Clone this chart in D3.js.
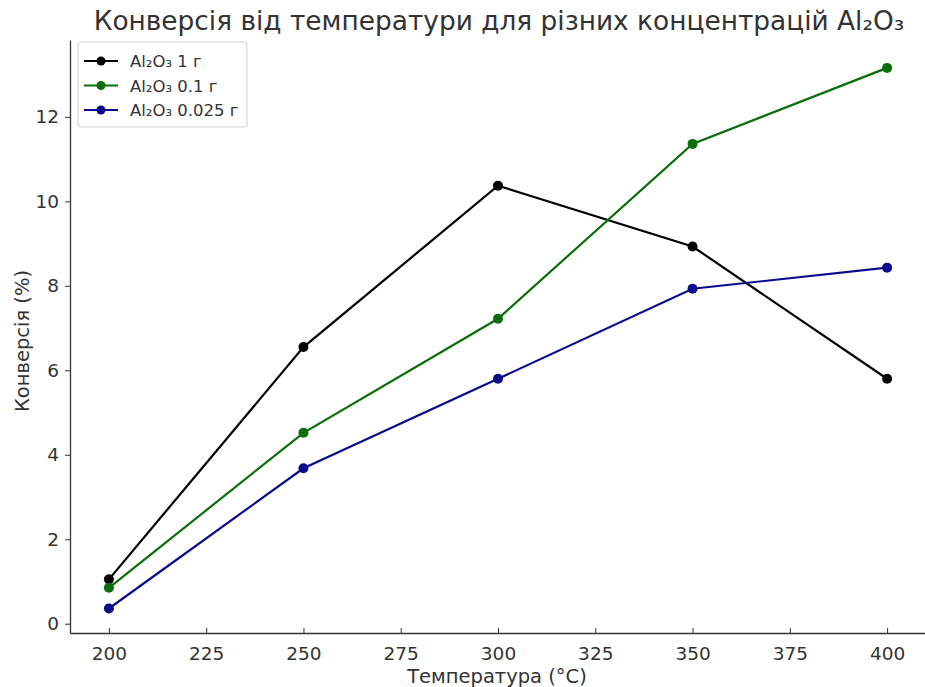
<!DOCTYPE html>
<html><head><meta charset="utf-8">
<script src="https://cdn.jsdelivr.net/npm/d3@7"></script>
<style>body{margin:0;background:#fff}svg{font-family:"DejaVu Sans",sans-serif}</style>
</head><body><svg id="c" width="925" height="687"></svg>
<script>
const temps = [200, 250, 300, 350, 400];
const series1g = [1.05, 6.55, 10.37, 8.93, 5.80];
const series01g = [0.85, 4.52, 7.22, 11.36, 13.16];
const series0025g = [0.36, 3.68, 5.80, 7.93, 8.43];
const seriesNames = ["Al₂O₃ 1 г", "Al₂O₃ 0.1 г", "Al₂O₃ 0.025 г"];
const seriesColors = ["#000000", "#0a6e0a", "#0a0a8c"];
const xTicks = [200, 225, 250, 275, 300, 325, 350, 375, 400];
const yTicks = [0, 2, 4, 6, 8, 10, 12];
const title = "Конверсія від температури для різних концентрацій Al₂O₃";
const xLabel = "Температура (°C)";
const yLabel = "Конверсія (%)";

const data = [series1g, series01g, series0025g].map((v, i) => ({
  name: seriesNames[i], color: seriesColors[i],
  pts: v.map((y, j) => ({x: temps[j], y}))
}));

const svg = d3.select("#c");
const L = 70, R = 926, T = 40, B = 633;
const x = d3.scaleLinear().domain([190, 410]).range([L, R]);
const y = d3.scaleLinear().domain([-0.22, 13.82]).range([B, T]);
const txt = "#333";

// axes
const xa = svg.append("g").attr("transform", `translate(0,${B})`)
  .call(d3.axisBottom(x).tickValues(xTicks).tickSize(-5).tickPadding(14).tickSizeOuter(0));
const ya = svg.append("g").attr("transform", `translate(${L},0)`)
  .call(d3.axisLeft(y).tickValues(yTicks).tickSize(5).tickPadding(6).tickSizeOuter(0));
[xa, ya].forEach(a => {
  a.select(".domain").attr("stroke", "#333").attr("stroke-width", 1.3);
  a.selectAll(".tick line").attr("stroke", "#333").attr("stroke-width", 1);
  a.selectAll(".tick text").attr("fill", txt).style("font-size", "18.5px").style("font-family", "DejaVu Sans");
});

// lines
const line = d3.line().x(d => x(d.x)).y(d => y(d.y));
data.forEach(s => {
  svg.append("path").attr("d", line(s.pts)).attr("fill", "none")
    .attr("stroke", s.color).attr("stroke-width", 2.2);
  svg.selectAll(null).data(s.pts).enter().append("circle")
    .attr("cx", d => x(d.x)).attr("cy", d => y(d.y)).attr("r", 5).attr("fill", s.color);
});

// title & labels
svg.append("text").attr("x", 499).attr("y", 30).attr("text-anchor", "middle")
  .attr("fill", txt).style("font-size", "26.4px").text(title);
svg.append("text").attr("x", 497).attr("y", 683).attr("text-anchor", "middle")
  .attr("fill", txt).style("font-size", "19.5px").text(xLabel);
svg.append("text").attr("transform", "translate(29,341) rotate(-90)").attr("text-anchor", "middle")
  .attr("fill", txt).style("font-size", "19.5px").text(yLabel);

// legend
const lg = svg.append("g").attr("transform", "translate(78,42)");
lg.append("rect").attr("width", 169).attr("height", 85).attr("rx", 3)
  .attr("fill", "#fff").attr("fill-opacity", 0.8).attr("stroke", "#ccc");
data.forEach((s, i) => {
  const yy = 19 + i * 24.5;
  lg.append("line").attr("x1", 6).attr("x2", 40).attr("y1", yy).attr("y2", yy)
    .attr("stroke", s.color).attr("stroke-width", 2.2);
  lg.append("circle").attr("cx", 23).attr("cy", yy).attr("r", 4.5).attr("fill", s.color);
  lg.append("text").attr("x", 52).attr("y", yy + 6).attr("fill", txt)
    .style("font-size", "16.5px").text(s.name);
});
</script></body></html>
